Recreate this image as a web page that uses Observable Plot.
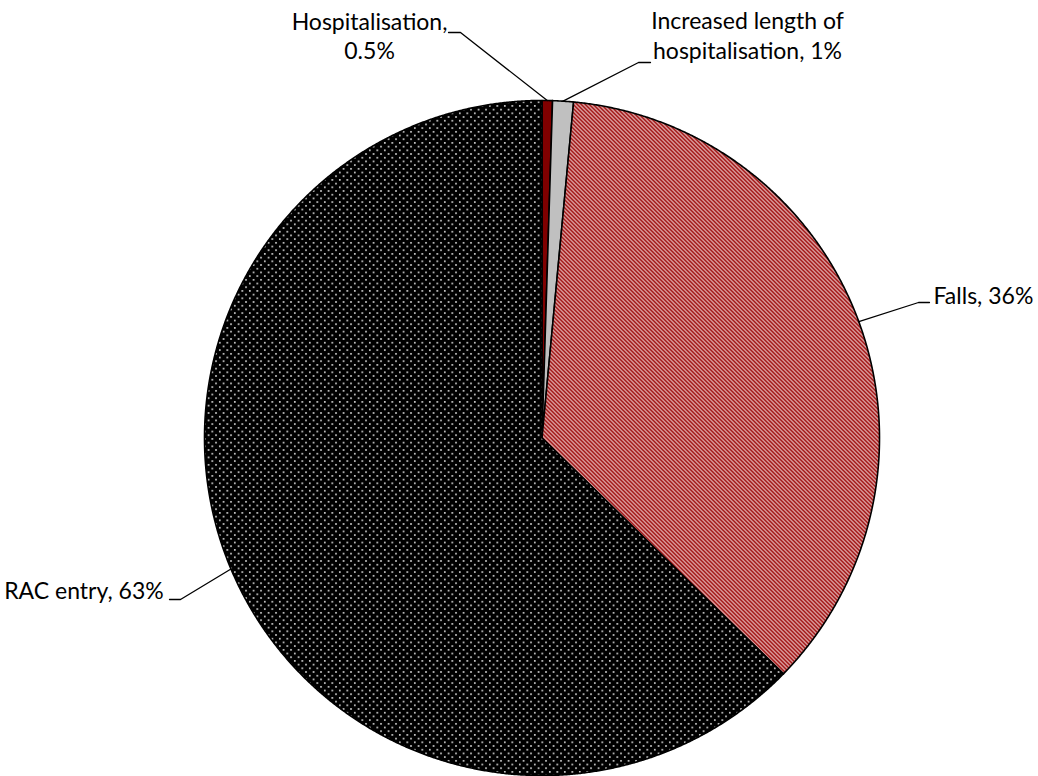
<!DOCTYPE html>
<html>
<head>
<meta charset="utf-8">
<script src="https://cdn.jsdelivr.net/npm/d3@7"></script>
<script src="https://cdn.jsdelivr.net/npm/@observablehq/plot@0.6"></script>
<style>
  html, body { margin: 0; padding: 0; background: #fff; }
  #chart { width: 1038px; height: 776px; }
</style>
</head>
<body>
<div id="chart"></div>
<script>
// ---- data ----
const categories = ["Hospitalisation", "Increased length of hospitalisation", "Falls", "RAC entry"];
const values = [0.5, 1, 36, 63];
const labelTexts = ["Hospitalisation,\n0.5%", "Increased length of\nhospitalisation, 1%", "Falls, 36%", "RAC entry, 63%"];
const fills = ["#800000", "#c0c0c0", "url(#hatch)", "url(#dots)"];

// ---- layout (unit radius coordinates, y up) ----
const labelAnchor = [[-0.511, 1.1215], [0.609, 1.1244], [1.160, 0.3985], [-1.121, -0.4756]];
const labelAlign = ["middle", "middle", "start", "end"];
const leaderElbow = [[-0.2415, 1.2015], [0.286, 1.1126], [1.1156, 0.4015], [-1.0711, -0.4785]];
const leaderEnd = [[-0.277, 1.2015], [0.3215, 1.1126], [1.1481, 0.4015], [-1.1037, -0.4785]];

const W = 1038, H = 776, CX = 541.5, CY = 437.5, R = 337.5;

const total = d3.sum(values);
let cum = 0;
const slicePts = [];
const leaderPts = [];
const labels = [];
categories.forEach((name, i) => {
  const a0 = cum / total * 2 * Math.PI;
  cum += values[i];
  const a1 = cum / total * 2 * Math.PI;
  const n = Math.max(2, Math.ceil((a1 - a0) / 0.004) + 1);
  slicePts.push({name, fill: fills[i], x: 0, y: 0});
  for (let k = 0; k < n; k++) {
    const a = a0 + (a1 - a0) * k / (n - 1);
    slicePts.push({name, fill: fills[i], x: Math.sin(a), y: Math.cos(a)});
  }
  slicePts.push({name, fill: fills[i], x: 0, y: 0});
  const am = (a0 + a1) / 2;
  leaderPts.push({name, x: Math.sin(am), y: Math.cos(am)});
  leaderPts.push({name, x: leaderElbow[i][0], y: leaderElbow[i][1]});
  leaderPts.push({name, x: leaderEnd[i][0], y: leaderEnd[i][1]});
  labels.push({name, text: labelTexts[i], x: labelAnchor[i][0], y: labelAnchor[i][1], anchor: labelAlign[i]});
});

function defs() {
  const d = d3.create("svg:defs");
  const h = d.append("pattern").attr("id", "hatch").attr("patternUnits", "userSpaceOnUse")
    .attr("width", 4).attr("height", 4);
  h.append("rect").attr("width", 4).attr("height", 4).attr("fill", "#fff");
  for (let r = 0; r < 4; r++) {
    for (const c of [r, (r + 1) % 4, (r + 2) % 4]) {
      h.append("rect").attr("x", c).attr("y", r).attr("width", 1).attr("height", 1)
        .attr("fill", c === (r + 2) % 4 ? "#c45a5a" : "#9a0606").attr("shape-rendering", "crispEdges");
    }
  }
  const p = d.append("pattern").attr("id", "dots").attr("patternUnits", "userSpaceOnUse")
    .attr("width", 7.5).attr("height", 7.4);
  p.append("rect").attr("width", 7.5).attr("height", 7.4).attr("fill", "#000");
  p.append("rect").attr("x", 1).attr("y", 1).attr("width", 1.6).attr("height", 1.6).attr("fill", "#e6e6e6");
  p.append("rect").attr("x", 4.75).attr("y", 4.7).attr("width", 1.6).attr("height", 1.6).attr("fill", "#e6e6e6");
  return d.node();
}

const textOpts = anchor => ({
  x: "x", y: "y", text: "text", filter: d => d.anchor === anchor, textAnchor: anchor,
  lineAnchor: "bottom", lineHeight: 1.3, fontSize: 23, fill: "#000"
});

const chart = Plot.plot({
  width: W,
  height: H,
  margin: 0,
  x: {domain: [(0 - CX) / R, (W - CX) / R], axis: null},
  y: {domain: [(CY - H) / R, CY / R], axis: null},
  color: {type: "identity"},
  style: {fontFamily: "Lato, sans-serif", background: "#fff"},
  marks: [
    defs,
    Plot.line(slicePts, {x: "x", y: "y", z: "name", fill: "fill", stroke: "#000", strokeWidth: 1.6, curve: "linear"}),
    Plot.line(leaderPts, {x: "x", y: "y", z: "name", stroke: "#000", strokeWidth: 1.3}),
    Plot.text(labels, textOpts("middle")),
    Plot.text(labels, textOpts("start")),
    Plot.text(labels, textOpts("end"))
  ]
});
document.getElementById("chart").appendChild(chart);
</script>
</body>
</html>
